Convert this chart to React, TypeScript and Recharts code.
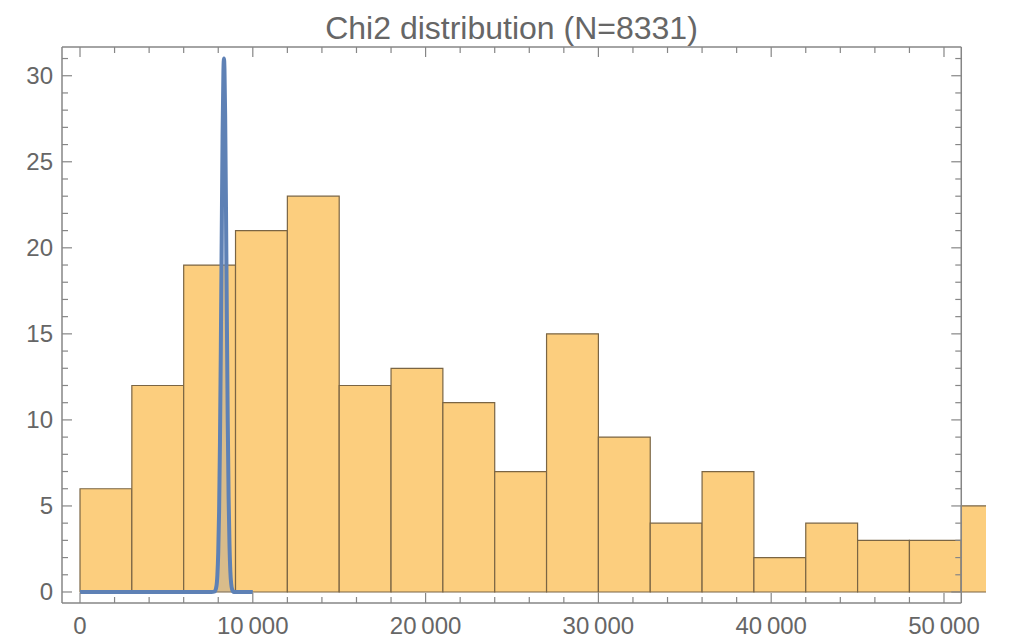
import React from 'react';
import { ComposedChart, Area, XAxis, YAxis, ReferenceArea, ReferenceLine } from 'recharts';

// Histogram bins (left edges, width 3000) and counts
const binStarts = [0, 3000, 6000, 9000, 12000, 15000, 18000, 21000, 24000, 27000, 30000, 33000, 36000, 39000, 42000, 45000, 48000, 51000];
const binWidth = 3000;
const binCounts = [6, 12, 19, 21, 23, 12, 13, 11, 7, 15, 9, 4, 7, 2, 4, 3, 3, 5];

// Scaled chi-square density curve
const curveX = [0, 7600, 7800, 7900, 7950, 8000, 8050, 8100, 8150, 8200, 8250, 8300, 8331, 8360, 8400, 8450, 8500, 8550, 8600, 8650, 8700, 8750, 8800, 8900, 9000, 10000];
const curveY = [0, 0, 0.04, 0.37, 0.98, 2.3, 4.7, 8.7, 14.2, 20.6, 26.5, 30.3, 31.0, 30.4, 27.7, 22.1, 15.7, 9.9, 5.5, 2.8, 1.2, 0.47, 0.17, 0, 0, 0];

// Axis ticks
const xMajorTicks = [0, 10000, 20000, 30000, 40000, 50000];
const xMinorTicks = [2000, 4000, 6000, 8000, 12000, 14000, 16000, 18000, 22000, 24000, 26000, 28000, 32000, 34000, 36000, 38000, 42000, 44000, 46000, 48000];
const yMajorTicks = [0, 5, 10, 15, 20, 25, 30];
const yMinorTicks = [1, 2, 3, 4, 6, 7, 8, 9, 11, 12, 13, 14, 16, 17, 18, 19, 21, 22, 23, 24, 26, 27, 28, 29, 31];

const TITLE = 'Chi2 distribution (N=8331)';

// Plot range
const X_MIN = -1042;
const X_MAX = 52431;
const FRAME_X_MAX = 51000;
const Y_MIN = -0.64;
const Y_MAX = 31.67;

const BAR_FILL = '#fcce7e';
const BAR_EDGE = '#7a6544';
const CURVE = '#5e81b5';
const FRAME = '#868686';
const TEXT = '#666666';
const FONT = '"Liberation Sans", Arial, Helvetica, sans-serif';
const MAJOR_LEN = 10;
const MINOR_LEN = 6;

const curveData = curveX.map((x, i) => ({ x, y: curveY[i] }));
const allXTicks = [...xMajorTicks, ...xMinorTicks].sort((a, b) => a - b);
const allYTicks = [...yMajorTicks, ...yMinorTicks].sort((a, b) => a - b);

const fmtThousands = (v: number) => {
  if (v < 10000) return String(v);
  const s = String(v);
  return s.slice(0, s.length - 3) + '\u2009' + s.slice(s.length - 3);
};

const BottomTick = (props: any) => {
  const { x, y, payload } = props;
  const v = payload.value as number;
  const major = xMajorTicks.includes(v);
  return (
    <g>
      <line x1={x} x2={x} y1={y} y2={y - (major ? MAJOR_LEN : MINOR_LEN)} stroke={FRAME} strokeWidth={1.2} />
      {major && (
        <text x={x} y={y + 30.5} textAnchor="middle" fill={TEXT} fontSize={24} fontFamily={FONT}>
          {fmtThousands(v)}
        </text>
      )}
    </g>
  );
};

const LeftTick = (props: any) => {
  const { x, y, payload } = props;
  const v = payload.value as number;
  const major = yMajorTicks.includes(v);
  return (
    <g>
      <line x1={x} x2={x + (major ? MAJOR_LEN : MINOR_LEN)} y1={y} y2={y} stroke={FRAME} strokeWidth={1.2} />
      {major && (
        <text x={x - 9} y={y} textAnchor="end" dominantBaseline="central" fill={TEXT} fontSize={24} fontFamily={FONT}>
          {v}
        </text>
      )}
    </g>
  );
};

export default function App() {
  return (
    <div style={{ position: 'absolute', left: 0, top: 0, width: 1011, height: 638, background: '#fff' }}>
      <ComposedChart width={1011} height={638} data={curveData} margin={{ top: 47, right: 25, bottom: 0, left: 0 }}>
        <XAxis
          dataKey="x"
          type="number"
          domain={[X_MIN, X_MAX]}
          allowDataOverflow
          ticks={allXTicks}
          interval={0}
          height={35}
          axisLine={false}
          tickLine={false}
          tickSize={0}
          tickMargin={0}
          tick={<BottomTick />}
        />
        <YAxis
          type="number"
          domain={[Y_MIN, Y_MAX]}
          allowDataOverflow
          ticks={allYTicks}
          interval={0}
          width={62}
          axisLine={false}
          tickLine={false}
          tickSize={0}
          tickMargin={0}
          tick={<LeftTick />}
        />

        {binStarts.map((x0, i) => (
          <ReferenceArea
            key={`bin-${i}`}
            x1={x0}
            x2={x0 + binWidth}
            y1={0}
            y2={binCounts[i]}
            ifOverflow="hidden"
            fill={BAR_FILL}
            fillOpacity={1}
            stroke={BAR_EDGE}
            strokeWidth={1.2}
          />
        ))}

        <Area
          dataKey="y"
          type="monotone"
          stroke={CURVE}
          strokeWidth={4}
          fill={CURVE}
          fillOpacity={0.22}
          dot={false}
          activeDot={false}
          isAnimationActive={false}
        />

        {/* Frame */}
        <ReferenceLine segment={[{ x: X_MIN, y: Y_MIN }, { x: FRAME_X_MAX, y: Y_MIN }]} stroke={FRAME} strokeWidth={1.5} ifOverflow="visible" />
        <ReferenceLine segment={[{ x: X_MIN, y: Y_MAX }, { x: FRAME_X_MAX, y: Y_MAX }]} stroke={FRAME} strokeWidth={1.5} ifOverflow="visible" />
        <ReferenceLine segment={[{ x: X_MIN, y: Y_MIN }, { x: X_MIN, y: Y_MAX }]} stroke={FRAME} strokeWidth={1.5} ifOverflow="visible" />
        <ReferenceLine segment={[{ x: FRAME_X_MAX, y: Y_MIN }, { x: FRAME_X_MAX, y: Y_MAX }]} stroke={FRAME} strokeWidth={1.5} ifOverflow="visible" />

        {/* Top frame ticks */}
        {allXTicks.map((t) => (
          <ReferenceLine
            key={`top-${t}`}
            segment={[{ x: t, y: Y_MAX }, { x: t, y: Y_MAX }]}
            ifOverflow="visible"
            shape={(p: any) => (
              <line x1={p.x1} x2={p.x1} y1={p.y1} y2={p.y1 + (xMajorTicks.includes(t) ? MAJOR_LEN : MINOR_LEN)} stroke={FRAME} strokeWidth={1.2} />
            )}
          />
        ))}

        {/* Right frame ticks */}
        {allYTicks.map((t) => (
          <ReferenceLine
            key={`right-${t}`}
            segment={[{ x: FRAME_X_MAX, y: t }, { x: FRAME_X_MAX, y: t }]}
            ifOverflow="visible"
            shape={(p: any) => (
              <line x1={p.x1} x2={p.x1 - (yMajorTicks.includes(t) ? MAJOR_LEN : MINOR_LEN)} y1={p.y1} y2={p.y1} stroke={FRAME} strokeWidth={1.2} />
            )}
          />
        ))}
      </ComposedChart>
      <svg width={1011} height={46} style={{ position: 'absolute', left: 0, top: 0, pointerEvents: 'none' }}>
        <text x={511.5} y={39} textAnchor="middle" fill={TEXT} fontSize={32} fontFamily={FONT}>
          {TITLE}
        </text>
      </svg>
    </div>
  );
}
